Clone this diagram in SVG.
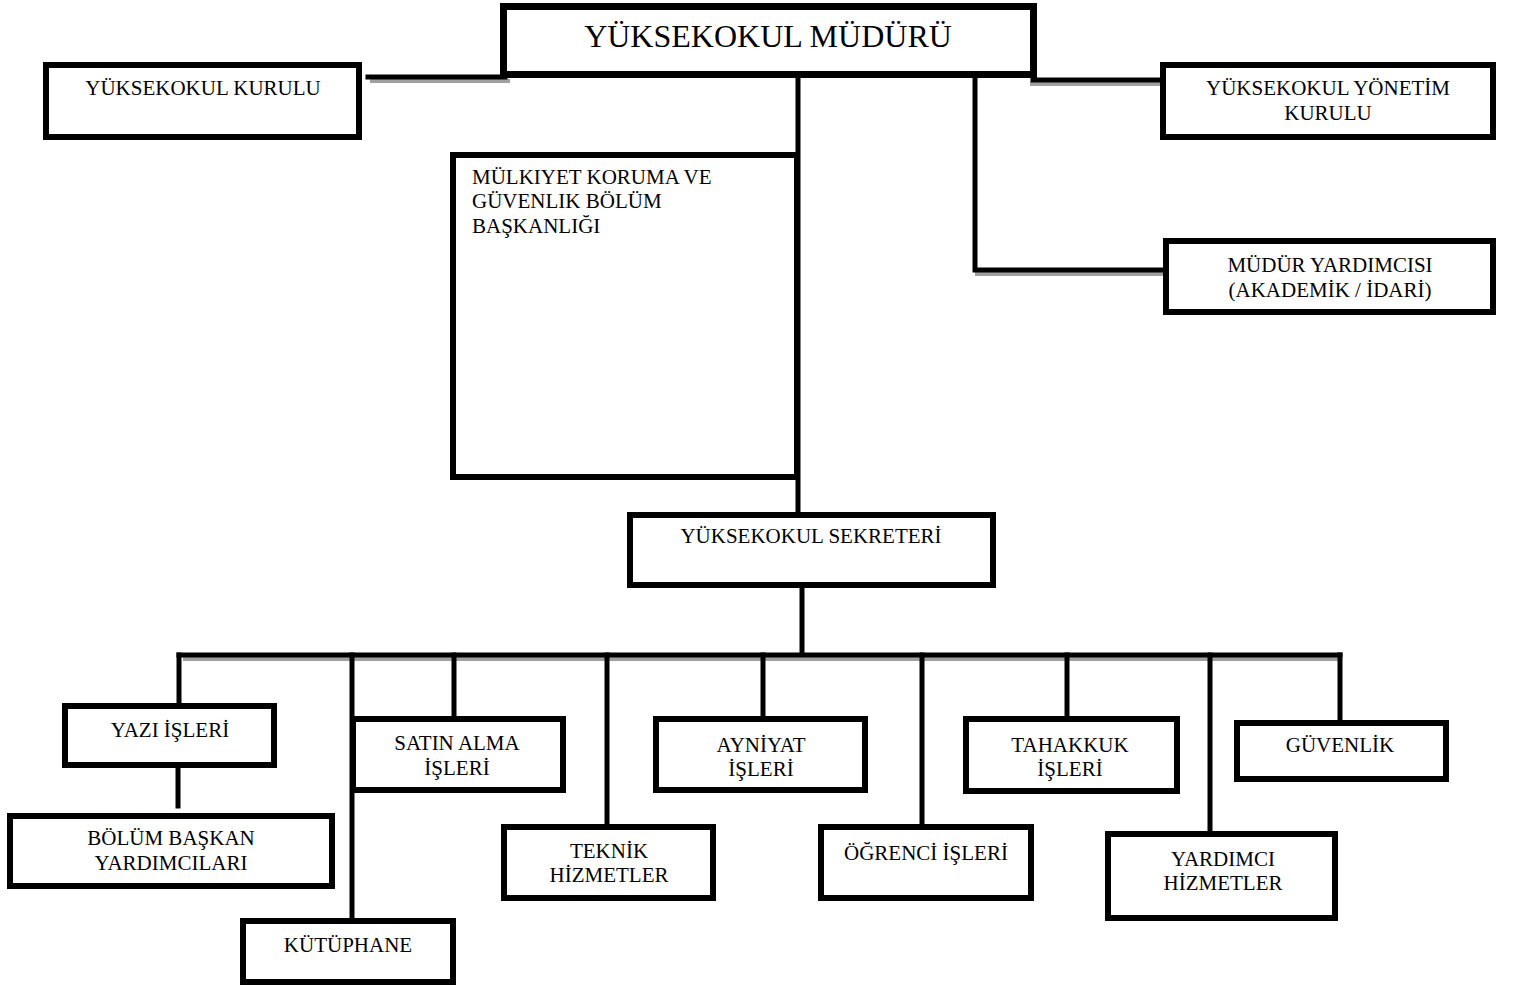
<svg xmlns="http://www.w3.org/2000/svg" width="1513" height="985" viewBox="0 0 1513 985">
<style>
.bg{fill:#fff}
.ln{stroke:#000;stroke-width:5;fill:none;stroke-linecap:square}
.sh{stroke:#a0a0a0;stroke-width:4;fill:none}
.bx{fill:#fff;stroke:#000;stroke-width:6}
.t{font-family:"Liberation Serif","Times New Roman",serif;font-size:21px;fill:#000;text-anchor:middle}
.tl{text-anchor:start}
</style>
<rect class="bg" x="0" y="0" width="1513" height="985"/>
<g id="connectors">
  <line class="sh" x1="370" y1="81" x2="510" y2="81"/>
  <line class="ln" x1="368" y1="77" x2="505" y2="77"/>
  <line class="sh" x1="1030" y1="84" x2="1160" y2="84"/>
  <line class="ln" x1="1033" y1="80" x2="1162" y2="80"/>
  <line class="ln" x1="798" y1="78" x2="798" y2="512"/>
  <line class="sh" x1="975" y1="274" x2="1163" y2="274"/>
  <polyline class="ln" points="975,78 975,270 1163,270"/>
  <line class="ln" x1="802" y1="587" x2="802" y2="655"/>
  <line class="sh" x1="183" y1="659" x2="1340" y2="659"/>
  <line class="ln" x1="179" y1="655" x2="1340" y2="655"/>
  <line class="ln" x1="179" y1="655" x2="179" y2="705"/>
  <line class="ln" x1="178" y1="768" x2="178" y2="806"/>
  <line class="ln" x1="352" y1="655" x2="352" y2="920"/>
  <line class="ln" x1="454" y1="655" x2="454" y2="718"/>
  <line class="ln" x1="607" y1="655" x2="607" y2="826"/>
  <line class="ln" x1="763" y1="655" x2="763" y2="718"/>
  <line class="ln" x1="922" y1="655" x2="922" y2="826"/>
  <line class="ln" x1="1067" y1="655" x2="1067" y2="718"/>
  <line class="ln" x1="1210" y1="655" x2="1210" y2="833"/>
  <line class="ln" x1="1340" y1="655" x2="1340" y2="722"/>
</g>
<g id="mudur">
  <rect class="bx" x="503.5" y="6.5" width="530" height="68" style="stroke-width:7"/>
  <text class="t" x="768" y="47" style="font-size:32px">YÜKSEKOKUL MÜDÜRÜ</text>
</g>
<g id="kurul">
  <rect class="bx" x="46" y="65" width="313" height="72"/>
  <text class="t" x="203" y="95">YÜKSEKOKUL KURULU</text>
</g>
<g id="yonetim">
  <rect class="bx" x="1163" y="65" width="330" height="72"/>
  <text class="t" x="1328" y="95">YÜKSEKOKUL YÖNETİM</text>
  <text class="t" x="1328" y="120">KURULU</text>
</g>
<g id="mulkiyet">
  <rect class="bx" x="453" y="155" width="344" height="322"/>
  <text class="t tl" x="472" y="184">MÜLKIYET KORUMA VE</text>
  <text class="t tl" x="472" y="208">GÜVENLIK BÖLÜM</text>
  <text class="t tl" x="472" y="233">BAŞKANLIĞI</text>
</g>
<g id="yardimci-mudur">
  <rect class="bx" x="1166" y="241" width="327" height="71"/>
  <text class="t" x="1330" y="272">MÜDÜR YARDIMCISI</text>
  <text class="t" x="1330" y="297">(AKADEMİK / İDARİ)</text>
</g>
<g id="sekreter">
  <rect class="bx" x="630" y="515" width="363" height="70"/>
  <text class="t" x="811" y="543">YÜKSEKOKUL SEKRETERİ</text>
</g>
<g id="yazi">
  <rect class="bx" x="65" y="706" width="209" height="59"/>
  <text class="t" x="170" y="737">YAZI İŞLERİ</text>
</g>
<g id="bolum">
  <rect class="bx" x="10" y="816" width="322" height="70"/>
  <text class="t" x="171" y="845">BÖLÜM BAŞKAN</text>
  <text class="t" x="171" y="870">YARDIMCILARI</text>
</g>
<g id="satin">
  <rect class="bx" x="353" y="719" width="210" height="71"/>
  <text class="t" x="457" y="750">SATIN ALMA</text>
  <text class="t" x="457" y="775">İŞLERİ</text>
</g>
<g id="kutuphane">
  <rect class="bx" x="243" y="921" width="210" height="61"/>
  <text class="t" x="348" y="952">KÜTÜPHANE</text>
</g>
<g id="teknik">
  <rect class="bx" x="504" y="827" width="209" height="71"/>
  <text class="t" x="609" y="858">TEKNİK</text>
  <text class="t" x="609" y="882">HİZMETLER</text>
</g>
<g id="ayniyat">
  <rect class="bx" x="656" y="719" width="209" height="71"/>
  <text class="t" x="761" y="752">AYNİYAT</text>
  <text class="t" x="761" y="776">İŞLERİ</text>
</g>
<g id="ogrenci">
  <rect class="bx" x="821" y="827" width="210" height="71"/>
  <text class="t" x="926" y="860">ÖĞRENCİ İŞLERİ</text>
</g>
<g id="tahakkuk">
  <rect class="bx" x="966" y="719" width="211" height="72"/>
  <text class="t" x="1070" y="752">TAHAKKUK</text>
  <text class="t" x="1070" y="776">İŞLERİ</text>
</g>
<g id="yardimci">
  <rect class="bx" x="1108" y="834" width="227" height="84"/>
  <text class="t" x="1223" y="866">YARDIMCI</text>
  <text class="t" x="1223" y="890">HİZMETLER</text>
</g>
<g id="guvenlik">
  <rect class="bx" x="1237" y="723" width="209" height="56"/>
  <text class="t" x="1340" y="752">GÜVENLİK</text>
</g>
</svg>
